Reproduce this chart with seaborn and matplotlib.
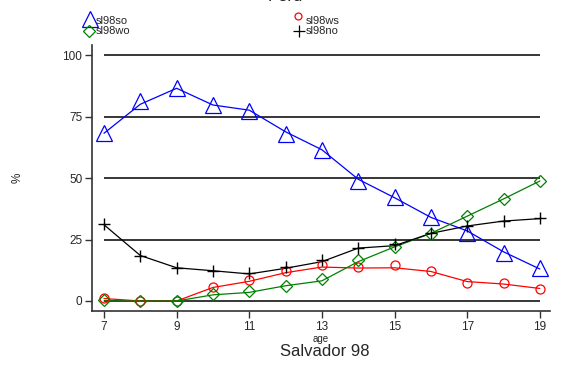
import matplotlib
matplotlib.use("Agg")
import matplotlib.pyplot as plt
from matplotlib.lines import Line2D
import seaborn as sns
import pandas as pd

sns.set_theme(style="white")
plt.rcParams['font.family'] = ['Liberation Sans', 'DejaVu Sans']

age = [7, 8, 9, 10, 11, 12, 13, 14, 15, 16, 17, 18, 19]
# observed values (markers)
sl98so = [68.2, 81.4, 86.6, 79.8, 77.2, 68.1, 61.5, 48.8, 42.3, 34.3, 27.6, 19.4, 13.5]
sl98ws = [1.4, 0.0, 0.0, 5.8, 8.5, 12.2, 14.5, 14.0, 14.6, 12.2, 7.4, 7.4, 4.9]
sl98wo = [0.2, 0.0, 0.0, 2.7, 4.0, 6.2, 8.9, 16.5, 21.8, 27.1, 34.4, 41.4, 48.8]
sl98no = [31.2, 18.4, 13.3, 12.1, 11.3, 13.9, 16.6, 21.7, 23.0, 27.5, 30.6, 32.5, 33.6]
# smoothed curves (lines), read at each age
fit_so = [68.2, 80.0, 86.5, 79.7, 77.6, 68.8, 61.5, 49.5, 42.0, 34.0, 28.5, 20.0, 13.0]
fit_ws = [1.0, 0.0, 0.0, 5.5, 8.0, 11.5, 13.8, 13.4, 13.5, 12.0, 7.9, 6.9, 5.1]
fit_wo = [0.0, 0.0, 0.0, 2.5, 3.5, 6.2, 8.2, 16.0, 22.0, 27.5, 34.5, 41.5, 48.8]
fit_no = [31.0, 18.5, 13.5, 12.3, 11.0, 13.3, 16.0, 21.5, 22.5, 27.5, 30.5, 32.5, 33.5]
yticks = [0, 25, 50, 75, 100]
xticks = [7, 9, 11, 13, 15, 17, 19]

series = [
    ("sl98so", sl98so, fit_so, "#0000ff", "^", 11.5),
    ("sl98ws", sl98ws, fit_ws, "#ff0000", "o", 6.5),
    ("sl98wo", sl98wo, fit_wo, "#008000", "D", 6.0),
    ("sl98no", sl98no, fit_no, "#000000", "+", 9.0),
]

fig = plt.figure(figsize=(5.69, 3.66), dpi=100)
W, H = 569, 366
ax = fig.add_axes([92 / W, 1 - 311 / H, (550 - 92) / W, (311 - 45) / H])

for yv in yticks:
    ax.hlines(yv, age[0], age[-1], color="black", lw=1.1, zorder=1)

for name, obs, fit, col, mk, ms in series:
    df = pd.DataFrame({"age": age, "obs": obs, "fit": fit})
    sns.lineplot(data=df, x="age", y="fit", color=col, lw=0.9, ax=ax, zorder=3)
    sns.lineplot(data=df, x="age", y="obs", color=col, lw=0, marker=mk,
                 markersize=ms, markerfacecolor="none", markeredgecolor=col,
                 markeredgewidth=0.9 if mk != "+" else 1.0, ax=ax, zorder=4)

ax.set_xlim(6.67, 19.28)
ax.set_ylim(-4.07, 104.1)
ax.set_xticks(xticks)
ax.set_yticks(yticks)
ax.tick_params(axis="both", direction="out", length=5, width=1, color="#333333",
               labelsize=8.5, pad=2, bottom=True, left=True)
for s in ["top", "right"]:
    ax.spines[s].set_visible(False)
for s in ["left", "bottom"]:
    ax.spines[s].set_color("#333333")
    ax.spines[s].set_linewidth(1.2)
ax.set_xlabel("age", fontsize=7, labelpad=1)
ax.set_ylabel("%", fontsize=8.5, labelpad=28)
ax.grid(False)

fig.text(325 / W, 1 - 352 / H, "Salvador 98", ha="center", va="center", fontsize=12)
fig.text(285 / W, 1 - 1.0 / H, "Perú", ha="center", va="baseline", fontsize=12)

# legend drawn manually: (marker x, marker y, text x, text y, marker size) in pixels
leg_pos = {
    "sl98so": (90, 19, 96, 21, 11.5),
    "sl98ws": (298, 16, 306, 21, 5.0),
    "sl98wo": (89, 31, 96, 31, 6.0),
    "sl98no": (299, 31, 306, 31, 8.0),
}
for name, obs, fit, col, mk, ms in series:
    mx, my, tx, ty, lms = leg_pos[name]
    fig.add_artist(Line2D([mx / W], [1 - my / H], transform=fig.transFigure,
                          color=col, lw=0, marker=mk, markersize=lms,
                          markerfacecolor="none", markeredgecolor=col,
                          markeredgewidth=0.9))
    fig.text(tx / W, 1 - ty / H, name, ha="left", va="center", fontsize=8)

fig.savefig("out.png", dpi=100)
